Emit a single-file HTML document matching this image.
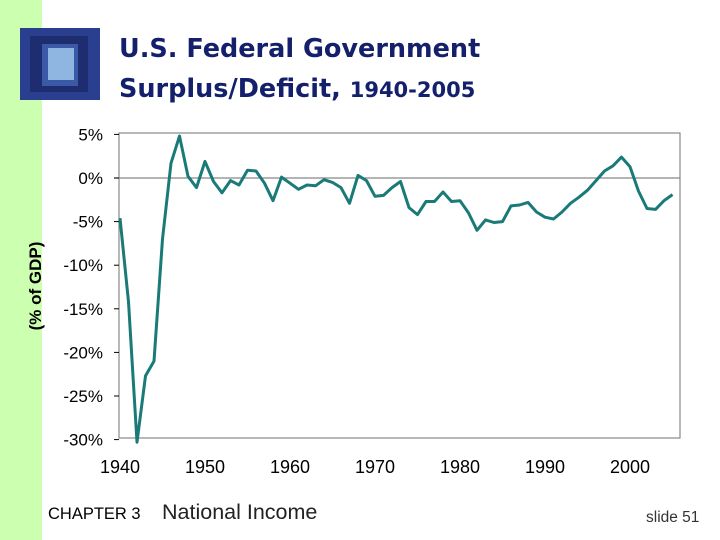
<!DOCTYPE html>
<html><head><meta charset="utf-8"><style>
body{margin:0;width:720px;height:540px;background:#fff;position:relative;overflow:hidden;font-family:"Liberation Sans",sans-serif}
.abs{position:absolute}
</style></head><body>
<div class="abs" style="left:0;top:0;width:42px;height:540px;background:#ccffb0"></div>
<svg class="abs" style="left:20px;top:28px" width="80" height="72">
<rect x="0" y="0" width="80" height="72" fill="#2a3f8f"/>
<rect x="10" y="8" width="58" height="56" fill="#1e2d70"/>
<rect x="22" y="16" width="36" height="42" fill="#3a5aa8"/>
<rect x="28" y="20" width="26" height="32" fill="#8fb6e0"/>
</svg>
<div class="abs" style="left:119px;top:29px;color:#14206b;font-family:'DejaVu Sans',sans-serif;font-weight:bold;font-size:25.5px;line-height:40px">U.S. Federal Government<br>Surplus/Deficit, <span style="font-size:21px">1940-2005</span></div>
<svg class="abs" style="left:0;top:0" width="720" height="540">
<text transform="translate(41,286) rotate(-90)" text-anchor="middle" font-size="17" font-weight="bold" font-family="Liberation Sans,sans-serif" fill="#000">(% of GDP)</text>
<g id="g"></g>
</svg>
<div class="abs" style="left:48px;top:505px;font-size:16.5px">CHAPTER 3</div>
<div class="abs" style="left:162px;top:500px;font-size:21.5px;color:#222">National Income</div>
<div class="abs" style="left:646px;top:509px;font-size:15.5px;color:#333">slide 51</div>
<script>
const years=[];for(let y=1940;y<=2005;y++)years.push(y);
const values=[-4.6,-14.2,-30.3,-22.7,-21.0,-7.0,1.7,4.8,0.2,-1.1,1.9,-0.4,-1.7,-0.3,-0.8,0.9,0.8,-0.6,-2.6,0.1,-0.6,-1.3,-0.8,-0.9,-0.2,-0.5,-1.1,-2.9,0.3,-0.3,-2.1,-2.0,-1.1,-0.4,-3.4,-4.2,-2.7,-2.7,-1.6,-2.7,-2.6,-4.0,-6.0,-4.8,-5.1,-5.0,-3.2,-3.1,-2.8,-3.9,-4.5,-4.7,-3.9,-2.9,-2.2,-1.4,-0.3,0.8,1.4,2.4,1.3,-1.5,-3.5,-3.6,-2.6,-1.9];
const yTicks=[5,0,-5,-10,-15,-20,-25,-30];
const yLabels=["5%","0%","-5%","-10%","-15%","-20%","-25%","-30%"];
const xTicks=[1940,1950,1960,1970,1980,1990,2000];
const X=y=>120+(y-1940)*8.5;
const Y=v=>178-v*8.72;
const g=document.getElementById('g');const NS='http://www.w3.org/2000/svg';
function mk(t,a){const e=document.createElementNS(NS,t);for(const k in a)e.setAttribute(k,a[k]);g.appendChild(e);return e;}
let e=mk('rect',{x:119,y:133,width:561,height:305,fill:'none',stroke:'#888','stroke-width':1.2});


e=mk('line',{x1:114,x2:680,y1:Y(0),y2:Y(0),stroke:'#888','stroke-width':1.2});


yTicks.forEach((v,i)=>{
 const t=mk('line',{x1:114,x2:119,y1:Y(v),y2:Y(v),stroke:'#000'});
 
 
 const l=mk('text',{x:103,y:Y(v)+6,'text-anchor':'end','font-size':17,fill:'#000'});
 l.textContent=yLabels[i];
 
 
});
xTicks.forEach(y=>{
 const l=mk('text',{x:X(y),y:473,'text-anchor':'middle','font-size':18,fill:'#000'});
 l.textContent=y;
 
 
});
const pts=values.map((v,i)=>X(years[i]).toFixed(1)+','+Y(v).toFixed(1)).join(' ');
e=mk('polyline',{points:pts,fill:'none',stroke:'#1a7a78','stroke-width':3,'stroke-linejoin':'round'});


</script>
</body></html>
